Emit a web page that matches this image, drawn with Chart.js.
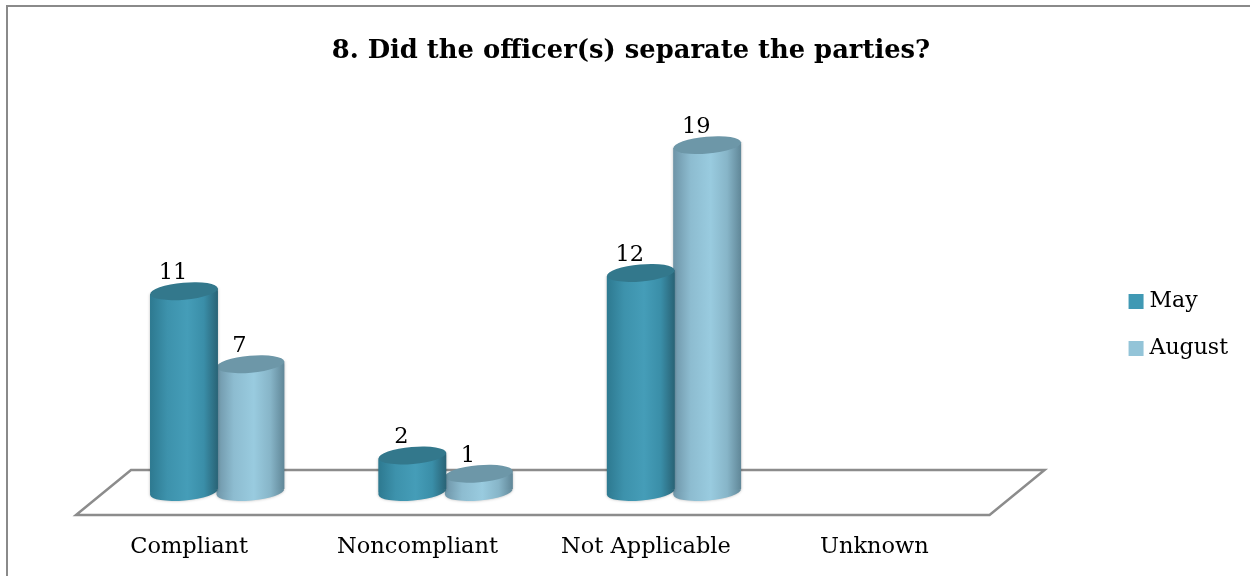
<!DOCTYPE html>
<html><head><meta charset="utf-8">
<style>html,body{margin:0;padding:0;background:#fff}#w{position:absolute;left:0;top:0;width:1250px;height:576px}</style>
<script src="https://cdn.jsdelivr.net/npm/chart.js@4"></script>
</head><body><div id="w"><canvas id="c"></canvas></div>
<script>
const titleText = '8. Did the officer(s) separate the parties?';
const categories = ['Compliant', 'Noncompliant', 'Not Applicable', 'Unknown'];
const mayValues = [11, 2, 12, null];
const augustValues = [7, 1, 19, null];
const FONT = '"DejaVu Serif"';
const styles = {
  May: {solid:'#4099b4', cap:'#33788c', stops:['#2e7a91','#3d92ac','#459db8','#3a8ea8','#2a6578']},
  August: {solid:'#93c4d8', cap:'#6d97a8', stops:['#6f96a9','#8dbcd0','#99cbdf','#87b5c8','#62899a']}
};
const TILT = -5 * Math.PI / 180, RY = 8.5;

function barGradient(ctx, cx, half, st) {
  const g = ctx.createLinearGradient(cx - half, 0, cx + half, 0);
  st.forEach((c, i) => g.addColorStop([0, .25, .55, .8, 1][i], c));
  return g;
}
function fill(context) {
  const st = styles[context.dataset.label];
  if (context.type !== 'data') return st.solid;
  const chart = context.chart, sx = chart.scales.x;
  if (!sx) return st.solid;
  const w = sx.width / categories.length * 0.582 / 2;
  const cx = sx.getPixelForValue(context.dataIndex) + (context.datasetIndex === 0 ? -w / 2 : w / 2);
  if (!Number.isFinite(cx) || !Number.isFinite(w)) return st.solid;
  return barGradient(chart.ctx, cx, w / 2, st.stops);
}
function sidePath(c, el) {
  const h = el.width / 2, d = h * Math.tan(-TILT);
  c.moveTo(el.x - h, el.y + d); c.lineTo(el.x + h, el.y - d);
  c.lineTo(el.x + h, el.base - d); c.lineTo(el.x - h, el.base + d); c.closePath();
}
const cylinder = {
  id: 'cylinder',
  beforeDraw(chart) {
    const c = chart.ctx;
    c.save();
    c.strokeStyle = '#8a8a8a'; c.lineWidth = 2;
    c.beginPath(); c.moveTo(7, 576); c.lineTo(7, 6); c.lineTo(1250, 6); c.stroke();
    c.restore();
  },
  beforeDatasetsDraw(chart) {
    const c = chart.ctx, a = chart.chartArea, b = a.bottom;
    c.save();
    c.strokeStyle = '#8c8c8c'; c.lineWidth = 2.5;
    c.beginPath();
    c.moveTo(a.left + 28, b - 22); c.lineTo(a.right + 28, b - 22);
    c.lineTo(a.right - 27, b + 23); c.lineTo(a.left - 27, b + 23);
    c.closePath(); c.stroke();
    c.restore();
  },
  beforeDatasetDraw(chart, args) {
    const c = chart.ctx, ds = chart.data.datasets[args.index], st = styles[ds.label];
    const els = chart.getDatasetMeta(args.index).data;
    els.forEach((el, i) => {
      if (ds.data[i] == null) return;
      c.save();
      c.fillStyle = barGradient(c, el.x, el.width / 2, st.stops);
      c.shadowColor = 'rgba(0,0,0,0.28)'; c.shadowBlur = 3;
      c.beginPath();
      c.ellipse(el.x, el.base, el.width / 2, RY, TILT, 0, Math.PI * 2);
      sidePath(c, el);
      c.fill();
      c.restore();
    });
    c.save();
    c.beginPath();
    els.forEach((el, i) => { if (ds.data[i] != null) sidePath(c, el); });
    c.clip();
  },
  afterDatasetDraw(chart, args) {
    const c = chart.ctx, ds = chart.data.datasets[args.index], st = styles[ds.label];
    c.restore();
    chart.getDatasetMeta(args.index).data.forEach((el, i) => {
      if (ds.data[i] == null) return;
      c.save();
      c.fillStyle = st.cap;
      c.beginPath(); c.ellipse(el.x, el.y, el.width / 2, RY, TILT, 0, Math.PI * 2); c.fill();
      c.restore();
    });
  },
  afterDatasetsDraw(chart) {
    const c = chart.ctx;
    c.save();
    c.font = '22.5px ' + FONT; c.fillStyle = '#000'; c.textAlign = 'center'; c.textBaseline = 'middle';
    chart.data.datasets.forEach((ds, d) => {
      chart.getDatasetMeta(d).data.forEach((el, i) => {
        if (ds.data[i] == null) return;
        c.fillText(String(ds.data[i]), el.x - 11, el.y - 18);
      });
    });
    c.restore();
  }
};
new Chart(document.getElementById('c'), {
  type: 'bar',
  data: {
    labels: categories,
    datasets: [
      {label: 'May', data: mayValues, backgroundColor: fill, borderWidth: 0, categoryPercentage: 0.582, barPercentage: 1.02},
      {label: 'August', data: augustValues, backgroundColor: fill, borderWidth: 0, categoryPercentage: 0.582, barPercentage: 1.02}
    ]
  },
  plugins: [cylinder],
  options: {
    responsive: true, maintainAspectRatio: false, animation: false,
    layout: {padding: {left: 24, right: 12, top: 36, bottom: -38}},
    plugins: {
      tooltip: {enabled: false},
      title: {display: true, text: titleText, color: '#000', font: {family: FONT, size: 25.8, weight: 'bold'}, padding: {top: 0, bottom: 7}},
      legend: {position: 'right', align: 'center',
        labels: {usePointStyle: true, pointStyle: 'rect', boxWidth: 5, boxHeight: 15, padding: 25, color: '#000', font: {family: FONT, size: 22},
          generateLabels(chart) {
            return Chart.defaults.plugins.legend.labels.generateLabels(chart).map(l => ({...l, fillStyle: styles[l.text].solid, strokeStyle: styles[l.text].solid, lineWidth: 0}));
          }}}
    },
    scales: {
      x: {afterFit(s) { s.height = 122; }, grid: {display: false}, border: {display: false},
        ticks: {color: '#000', font: {family: FONT, size: 22.5}, padding: 34, labelOffset: -28, autoSkip: false, maxRotation: 0}},
      y: {min: 0, max: 22.9, afterFit(s) { s.width = 79; }, grid: {display: false}, border: {display: false}, ticks: {display: false}},
      r: {position: 'right', type: 'linear', afterFit(s) { s.width = 92; }, grid: {display: false}, border: {display: false}, ticks: {display: false}}
    }
  }
});
</script></body></html>
